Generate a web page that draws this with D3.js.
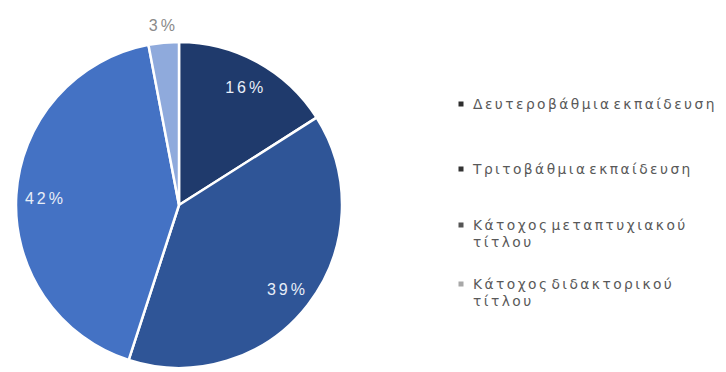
<!DOCTYPE html>
<html>
<head>
<meta charset="utf-8">
<script src="https://cdn.jsdelivr.net/npm/d3@7"></script>
<style>
  html, body { margin: 0; padding: 0; background: #ffffff; }
  svg { display: block; }
</style>
</head>
<body>
<svg id="chart" width="726" height="372"></svg>
<script>
// Education level of respondents (share, %)
const categories = [
  "Δευτεροβάθμια εκπαίδευση",
  "Τριτοβάθμια εκπαίδευση",
  "Κάτοχος μεταπτυχιακού τίτλου",
  "Κάτοχος διδακτορικού τίτλου"
];
const values = [16, 39, 42, 3];
const legendLines = [
  ["Δευτεροβάθμια εκπαίδευση"],
  ["Τριτοβάθμια εκπαίδευση"],
  ["Κάτοχος μεταπτυχιακού", "τίτλου"],
  ["Κάτοχος διδακτορικού", "τίτλου"]
];
const sliceColors = ["#1f3a6c", "#2f5597", "#4472c4", "#8faadc"];
const bulletColors = ["#2e2e2e", "#333333", "#555555", "#a8a8a8"];

const svg = d3.select("#chart");
const cx = 179, cy = 205, R = 163;

const data = categories.map((c, i) => ({ name: c, value: values[i], i }));

const pie = d3.pie().value(d => d.value).sort(null);
const arc = d3.arc().innerRadius(0).outerRadius(R);
const labelArcIn = d3.arc().innerRadius(R * 0.83).outerRadius(R * 0.83);
const labelArcOut = d3.arc().innerRadius(R + 19).outerRadius(R + 19);

const color = d3.scaleOrdinal().domain(categories).range(sliceColors);

const g = svg.append("g").attr("transform", `translate(${cx},${cy})`);
const arcs = pie(data);

g.selectAll("path.slice")
  .data(arcs)
  .join("path")
  .attr("class", "slice")
  .attr("d", arc)
  .attr("fill", d => color(d.data.name))
  .attr("stroke", "#ffffff")
  .attr("stroke-width", 2.5)
  .attr("stroke-linejoin", "round");

// Percentage labels: inside for large slices, outside for the small one
g.selectAll("text.pct")
  .data(arcs)
  .join("text")
  .attr("class", "pct")
  .attr("transform", d => {
    const small = d.data.value < 5;
    const p = (small ? labelArcOut : labelArcIn).centroid(d);
    return `translate(${p[0] + 1.5},${p[1] + 1.5})`;
  })
  .attr("text-anchor", "middle")
  .attr("dominant-baseline", "central")
  .attr("font-family", "Liberation Sans, Arial, sans-serif")
  .attr("font-size", 16)
  .attr("letter-spacing", 3)
  .attr("fill", d => d.data.value < 5 ? "#8a8a8a" : "#e8eef8")
  .text(d => d.data.value + "%");

// Legend
const legendX = 461, textX = 473;
const rowY = [104, 169, 225, 284];
const lineGap = 16.5;

const legend = svg.append("g").attr("class", "legend");
const rows = legend.selectAll("g.row")
  .data(data)
  .join("g")
  .attr("class", "row")
  .attr("transform", (d, i) => `translate(0,${rowY[i]})`);

rows.append("rect")
  .attr("x", legendX - 2.5)
  .attr("y", -2.5)
  .attr("width", 5)
  .attr("height", 5)
  .attr("fill", (d, i) => bulletColors[i]);

rows.append("text")
  .attr("x", textX)
  .attr("font-family", "DejaVu Sans, sans-serif")
  .attr("font-size", 13.8)
  .attr("letter-spacing", 2.45)
  .attr("word-spacing", -5)
  .attr("fill", "#595959")
  .selectAll("tspan")
  .data((d, i) => legendLines[i])
  .join("tspan")
  .attr("x", textX)
  .attr("y", (d, j) => j * lineGap)
  .attr("dominant-baseline", "central")
  .text(d => d);
</script>
</body>
</html>
